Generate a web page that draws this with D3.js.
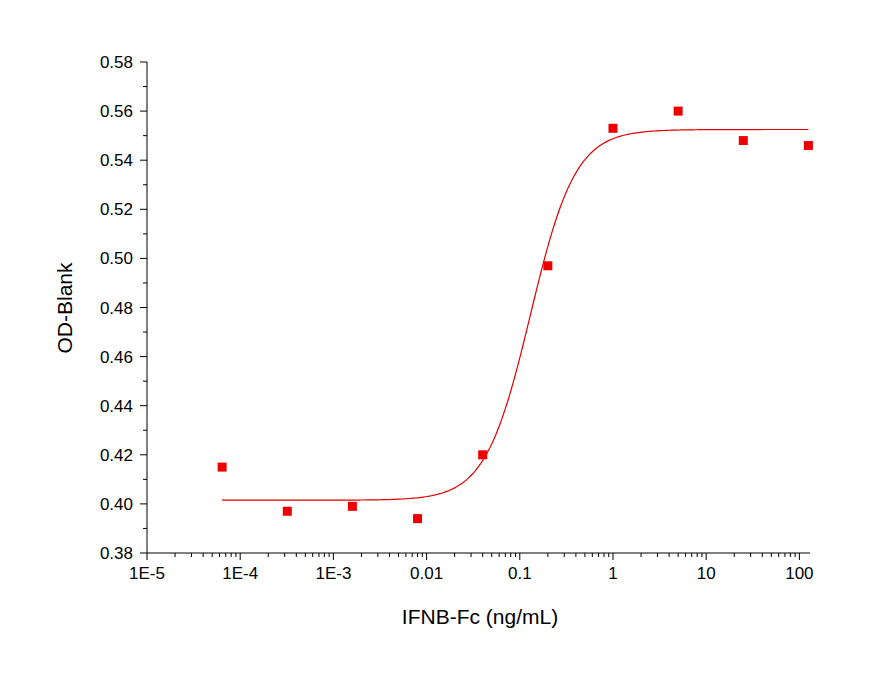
<!DOCTYPE html>
<html><head><meta charset="utf-8">
<script src="https://cdn.jsdelivr.net/npm/d3@7"></script>
<style>body{margin:0;background:#fff}text{font-family:"Liberation Sans",Arial,sans-serif}</style>
</head><body><div id="plot"></div>
<script>
const concs = [6.4e-5, 3.2e-4, 1.6e-3, 8e-3, 0.04, 0.2, 1, 5, 25, 125];
const odValues = [0.415, 0.397, 0.399, 0.394, 0.420, 0.497, 0.553, 0.560, 0.548, 0.546];
// 4PL fit parameters
const fitBottom = 0.4015, fitTop = 0.5525, fitEC50 = 0.13, fitHill = 1.8;
const xTickLabels = ["1E-5","1E-4","1E-3","0.01","0.1","1","10","100"];

const width = 870, height = 681;
const svg = d3.select("#plot").append("svg").attr("width", width).attr("height", height);

const x = d3.scaleLog().domain([1e-5, 130]).range([147, 810]);
const y = d3.scaleLinear().domain([0.38, 0.58]).range([553, 62]);

// x axis
const xg = svg.append("g").attr("transform", "translate(0,553)");
xg.append("line").attr("x1", 147).attr("x2", 810).attr("stroke", "#000");
const minors = [];
for (let e = -5; e <= 2; e++) for (let m = 1; m < 10; m++) { const v = m * Math.pow(10, e); if (v <= 130) minors.push(v); }
xg.selectAll(".xt").data(minors).join("line")
  .attr("x1", d => x(d)).attr("x2", d => x(d)).attr("y1", 0)
  .attr("y2", d => Math.abs(Math.log10(d) - Math.round(Math.log10(d))) < 1e-9 ? 7 : 4)
  .attr("stroke", "#000");
xg.selectAll(".xl").data(xTickLabels).join("text")
  .attr("x", (d, i) => x(Math.pow(10, i - 5))).attr("y", 26)
  .attr("text-anchor", "middle").attr("font-size", 17).text(d => d);

// y axis
const yg = svg.append("g");
yg.append("line").attr("x1", 147).attr("x2", 147).attr("y1", 553).attr("y2", 62).attr("stroke", "#000");
const yMinor = d3.range(0, 21).map(i => 0.38 + i * 0.01);
yg.selectAll("line.t").data(yMinor).join("line").attr("class", "t")
  .attr("x1", 147).attr("x2", (d, i) => i % 2 ? 143 : 140)
  .attr("y1", d => y(d)).attr("y2", d => y(d)).attr("stroke", "#000");
yg.selectAll("text").data(y.ticks(10)).join("text")
  .attr("x", 133).attr("y", d => y(d) + 6).attr("text-anchor", "end")
  .attr("font-size", 17).text(d => d3.format(".2f")(d));

svg.append("text").attr("x", 480).attr("y", 624).attr("text-anchor", "middle")
  .attr("font-size", 21).text("IFNB-Fc (ng/mL)");
svg.append("text").attr("transform", "translate(72,308) rotate(-90)")
  .attr("text-anchor", "middle").attr("font-size", 21).text("OD-Blank");

// fitted curve
const fit = c => fitBottom + (fitTop - fitBottom) / (1 + Math.pow(fitEC50 / c, fitHill));
const xs = d3.range(0, 301).map(i => Math.pow(10, Math.log10(concs[0]) + i / 300 * (Math.log10(concs[9]) - Math.log10(concs[0]))));
svg.append("path").datum(xs)
  .attr("d", d3.line().x(d => x(d)).y(d => y(fit(d))))
  .attr("fill", "none").attr("stroke", "#e00000").attr("stroke-width", 1.2);

svg.selectAll("rect.pt").data(concs).join("rect").attr("class", "pt")
  .attr("x", d => x(d) - 4.5).attr("y", (d, i) => y(odValues[i]) - 4.5)
  .attr("width", 9).attr("height", 9).attr("fill", "#ee0000");
</script></body></html>
